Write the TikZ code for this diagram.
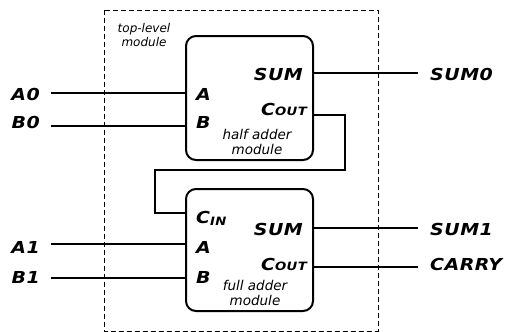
\documentclass[tikz,border=0pt]{standalone}
\usepackage{fontspec}
\setmainfont{DejaVu Sans}[FakeStretch=1.15,LetterSpace=3]
\newfontfamily\notefont{DejaVu Sans}
\usetikzlibrary{positioning}

\tikzset{
  module/.style={draw=black, line width=2pt, rounded corners=10pt, minimum width=127pt, inner sep=0pt},
  wire/.style={line width=1.2pt},
  toplevel/.style={draw=black, line width=0.8pt, dash pattern=on 5pt off 3pt},
  signal/.style={inner sep=0pt, font=\bfseries\itshape\fontsize{16.5}{16.5}\selectfont},
  port/.style={inner sep=0pt, font=\bfseries\itshape\fontsize{16.5}{16.5}\selectfont},
  note/.style={inner sep=0pt, align=center, font=\notefont\itshape\fontsize{13.5}{15}\selectfont}
}
\newcommand{\pinCout}{C\raisebox{-0.5pt}{\fontsize{11.5}{11.5}\selectfont OUT}}
\newcommand{\pinCin}{C\raisebox{-2pt}{\fontsize{11.5}{11.5}\selectfont IN}}

\begin{document}
\begin{tikzpicture}[x=1pt,y=-1pt]
	\useasboundingbox (0,0) rectangle (512,332);
	
	% top-level frame
	\draw[toplevel] (104,10) rectangle (378,331);
	\node[note, anchor=base, font=\notefont\itshape\fontsize{12}{14}\selectfont] (toplbl) at (144,46) {top-level\\module};
	
	% modules
	\node[module, minimum height=124pt] (ha) at (249.5,98) {};
	\node[module, minimum height=122pt] (fa) at (249.5,250) {};
	
	% ports of the half adder
	\coordinate (ha-a) at (186,93);
	\coordinate (ha-b) at (186,126);
	\coordinate (ha-s) at (313,73);
	\coordinate (ha-co) at (313,115);
	\node[port, anchor=base west] (ha-al) at (196,100) {A};
	\node[port, anchor=base west] (ha-bl) at (196,128) {B};
	\node[port, anchor=base east] (ha-sl) at (303,80) {SUM};
	\node[port, anchor=base east] (ha-col) at (307,115) {\pinCout};
	\node[note, anchor=base] (ha-name) at (257,154) {half adder\\module};
	
	% ports of the full adder
	\coordinate (fa-ci) at (186,213);
	\coordinate (fa-a) at (186,244);
	\coordinate (fa-b) at (186,278);
	\coordinate (fa-s) at (313,228);
	\coordinate (fa-co) at (313,267);
	\node[port, anchor=base west] (fa-cil) at (196,223) {\pinCin};
	\node[port, anchor=base west] (fa-al) at (196,253) {A};
	\node[port, anchor=base west] (fa-bl) at (196,283) {B};
	\node[port, anchor=base east] (fa-sl) at (303,235) {SUM};
	\node[port, anchor=base east] (fa-col) at (307,270) {\pinCout};
	\node[note, anchor=base] (fa-name) at (255,305) {full adder\\module};
	
	% outside signals
	\node[signal, anchor=base east] (a0) at (40,100) {A0};
	\node[signal, anchor=base east] (b0) at (40,128) {B0};
	\node[signal, anchor=base east] (a1) at (40,253) {A1};
	\node[signal, anchor=base east] (b1) at (40,283) {B1};
	\node[signal, anchor=base west] (sum0) at (430,80) {SUM0};
	\node[signal, anchor=base west] (sum1) at (430,235) {SUM1};
	\node[signal, anchor=base west] (carry) at (430,270) {CARRY};
	
	\coordinate (a0-end) at (51,93);
	\coordinate (b0-end) at (51,126);
	\coordinate (a1-end) at (51,244);
	\coordinate (b1-end) at (51,278);
	\coordinate (sum0-end) at (418,73);
	\coordinate (sum1-end) at (418,228);
	\coordinate (carry-end) at (418,267);
	\coordinate (carry-r) at (345,170);
	\coordinate (carry-l) at (155,170);
	
	% wires
	\draw[wire] (a0-end) -- (ha-a);
	\draw[wire] (b0-end) -- (ha-b);
	\draw[wire] (ha-s) -- (sum0-end);
	\draw[wire] (ha-co) -| (carry-r) -- (carry-l) |- (fa-ci);
	\draw[wire] (a1-end) -- (fa-a);
	\draw[wire] (b1-end) -- (fa-b);
	\draw[wire] (fa-s) -- (sum1-end);
	\draw[wire] (fa-co) -- (carry-end);
	
\end{tikzpicture}
\end{document}
